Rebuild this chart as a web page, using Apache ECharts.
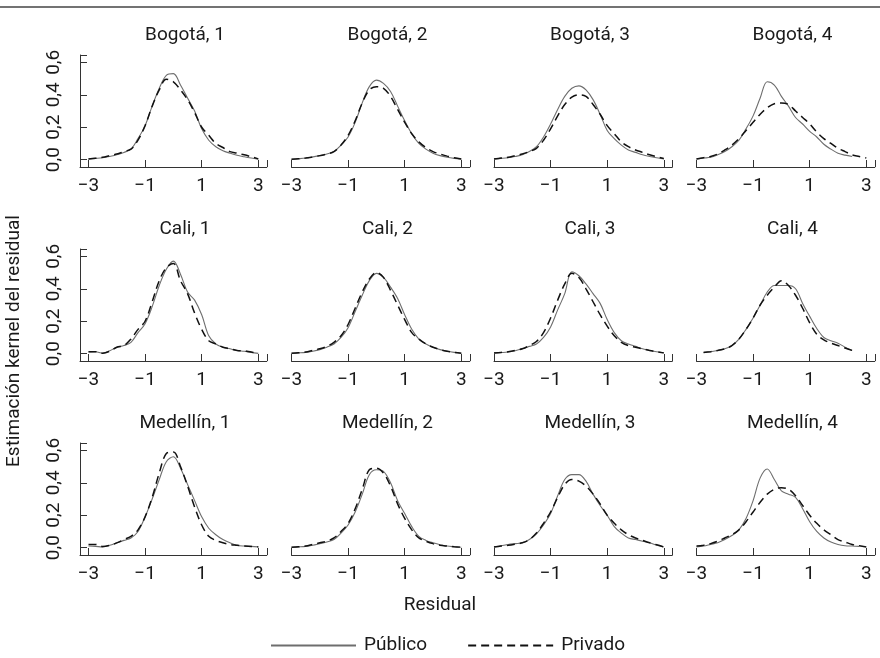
<!DOCTYPE html>
<html>
<head>
<meta charset="utf-8">
<script src="https://cdn.jsdelivr.net/npm/echarts@6/dist/echarts.min.js"></script>
<style>
  html, body { margin: 0; padding: 0; background: #fff; }
  #main { width: 880px; height: 658px; }
</style>
</head>
<body>
<div id="main"></div>
<script>
// residual grid (x), shared by every panel
var residual = [-3, -2.75, -2.5, -2.25, -2, -1.75, -1.5, -1.25, -1, -0.75, -0.5, -0.25, 0,
  0.25, 0.5, 0.75, 1, 1.25, 1.5, 1.75, 2, 2.25, 2.5, 2.75, 3];

var panelTitles = ['Bogotá, 1', 'Bogotá, 2', 'Bogotá, 3', 'Bogotá, 4',
  'Cali, 1', 'Cali, 2', 'Cali, 3', 'Cali, 4',
  'Medellín, 1', 'Medellín, 2', 'Medellín, 3', 'Medellín, 4'];

var xTickLabels = [-3, -1, 1, 3];
var yTickLabels = [0, 0.2, 0.4, 0.6];

// kernel density estimates (Público = solid, Privado = dashed)
var bogota1Publico = [0.005, 0.008, 0.012, 0.02, 0.03, 0.045, 0.065, 0.13, 0.21, 0.33, 0.44, 0.52, 0.53, 0.46, 0.38, 0.30, 0.19, 0.12, 0.08, 0.055, 0.04, 0.027, 0.018, 0.01, 0.003];
var bogota1Privado = [0.005, 0.009, 0.015, 0.025, 0.035, 0.05, 0.065, 0.12, 0.21, 0.33, 0.43, 0.495, 0.48, 0.43, 0.37, 0.29, 0.20, 0.15, 0.10, 0.075, 0.05, 0.04, 0.03, 0.018, 0.005];
var bogota2Publico = [0.003, 0.006, 0.01, 0.017, 0.025, 0.035, 0.05, 0.09, 0.14, 0.23, 0.35, 0.45, 0.49, 0.47, 0.42, 0.33, 0.24, 0.16, 0.10, 0.065, 0.04, 0.025, 0.015, 0.008, 0.003];
var bogota2Privado = [0.003, 0.006, 0.01, 0.017, 0.025, 0.035, 0.05, 0.09, 0.15, 0.24, 0.35, 0.43, 0.45, 0.44, 0.39, 0.31, 0.23, 0.16, 0.11, 0.075, 0.05, 0.035, 0.022, 0.012, 0.005];
var bogota3Publico = [0.005, 0.008, 0.012, 0.02, 0.03, 0.05, 0.08, 0.14, 0.22, 0.31, 0.39, 0.44, 0.455, 0.43, 0.37, 0.28, 0.18, 0.13, 0.09, 0.06, 0.045, 0.03, 0.02, 0.012, 0.005];
var bogota3Privado = [0.005, 0.01, 0.015, 0.025, 0.035, 0.05, 0.07, 0.12, 0.19, 0.27, 0.34, 0.385, 0.40, 0.39, 0.34, 0.28, 0.21, 0.16, 0.11, 0.08, 0.06, 0.045, 0.03, 0.018, 0.008];
var bogota4Publico = [0.005, 0.01, 0.015, 0.03, 0.05, 0.08, 0.12, 0.19, 0.27, 0.38, 0.48, 0.46, 0.39, 0.33, 0.26, 0.22, 0.175, 0.14, 0.095, 0.065, 0.04, 0.028, 0.02, null, null];
var bogota4Privado = [0.005, 0.012, 0.02, 0.035, 0.06, 0.09, 0.13, 0.18, 0.23, 0.28, 0.32, 0.345, 0.35, 0.34, 0.30, 0.26, 0.22, 0.17, 0.13, 0.10, 0.07, 0.05, 0.03, 0.02, 0.01];
var cali1Publico = [0.01, 0.012, 0.003, 0.018, 0.04, 0.05, 0.07, 0.13, 0.185, 0.29, 0.42, 0.52, 0.57, 0.49, 0.38, 0.33, 0.24, 0.11, 0.06, 0.04, 0.03, 0.02, 0.015, 0.008, 0.002];
var cali1Privado = [0.012, 0.012, 0.003, 0.015, 0.04, 0.05, 0.09, 0.15, 0.20, 0.32, 0.45, 0.53, 0.555, 0.45, 0.37, 0.25, 0.15, 0.08, 0.06, 0.04, 0.03, 0.02, 0.018, 0.01, 0.004];
var cali2Publico = [0.003, 0.005, 0.008, 0.015, 0.025, 0.04, 0.06, 0.10, 0.16, 0.26, 0.36, 0.45, 0.495, 0.47, 0.41, 0.34, 0.24, 0.15, 0.09, 0.06, 0.04, 0.025, 0.015, 0.008, 0.003];
var cali2Privado = [0.003, 0.006, 0.01, 0.02, 0.03, 0.045, 0.07, 0.11, 0.18, 0.28, 0.38, 0.46, 0.50, 0.47, 0.39, 0.30, 0.21, 0.13, 0.09, 0.06, 0.04, 0.025, 0.015, 0.008, 0.003];
var cali3Publico = [0.005, 0.007, 0.01, 0.018, 0.03, 0.045, 0.06, 0.10, 0.165, 0.27, 0.37, 0.505, 0.48, 0.43, 0.37, 0.31, 0.21, 0.13, 0.08, 0.06, 0.045, 0.03, 0.02, 0.012, 0.005];
var cali3Privado = [0.005, 0.008, 0.012, 0.02, 0.03, 0.05, 0.075, 0.13, 0.22, 0.33, 0.43, 0.495, 0.47, 0.40, 0.32, 0.24, 0.17, 0.11, 0.07, 0.05, 0.04, 0.03, 0.02, 0.012, 0.005];
var cali4Publico = [null, 0.008, 0.012, 0.02, 0.03, 0.05, 0.09, 0.15, 0.22, 0.30, 0.38, 0.42, 0.42, 0.42, 0.40, 0.31, 0.23, 0.155, 0.10, 0.08, 0.065, 0.04, 0.02, null, null];
var cali4Privado = [null, 0.008, 0.012, 0.02, 0.03, 0.05, 0.09, 0.15, 0.22, 0.30, 0.36, 0.41, 0.45, 0.42, 0.36, 0.28, 0.19, 0.12, 0.085, 0.065, 0.05, 0.035, 0.02, null, null];
var medellin1Publico = [0.01, 0.008, 0.005, 0.015, 0.03, 0.045, 0.06, 0.10, 0.19, 0.30, 0.42, 0.53, 0.56, 0.49, 0.39, 0.29, 0.19, 0.12, 0.08, 0.05, 0.03, 0.015, 0.01, 0.008, 0.005];
var medellin1Privado = [0.02, 0.02, 0.008, 0.015, 0.03, 0.05, 0.07, 0.11, 0.19, 0.31, 0.46, 0.58, 0.59, 0.50, 0.38, 0.25, 0.14, 0.07, 0.045, 0.03, 0.02, 0.015, 0.01, 0.008, 0.005];
var medellin2Publico = [0.003, 0.005, 0.008, 0.015, 0.025, 0.035, 0.05, 0.09, 0.14, 0.22, 0.33, 0.45, 0.48, 0.47, 0.40, 0.29, 0.21, 0.13, 0.07, 0.045, 0.03, 0.018, 0.01, 0.006, 0.003];
var medellin2Privado = [0.003, 0.006, 0.01, 0.02, 0.03, 0.04, 0.06, 0.10, 0.15, 0.24, 0.36, 0.48, 0.49, 0.46, 0.38, 0.27, 0.18, 0.11, 0.06, 0.04, 0.025, 0.015, 0.01, 0.006, 0.003];
var medellin3Publico = [0.005, 0.012, 0.02, 0.025, 0.03, 0.05, 0.085, 0.14, 0.21, 0.32, 0.42, 0.45, 0.45, 0.41, 0.33, 0.26, 0.20, 0.13, 0.09, 0.06, 0.05, 0.04, 0.03, 0.015, 0.005];
var medellin3Privado = [0.005, 0.01, 0.015, 0.022, 0.03, 0.05, 0.09, 0.15, 0.22, 0.31, 0.39, 0.42, 0.41, 0.38, 0.33, 0.27, 0.20, 0.15, 0.11, 0.08, 0.06, 0.045, 0.03, 0.018, 0.005];
var medellin4Publico = [0.005, 0.01, 0.02, 0.03, 0.05, 0.075, 0.11, 0.18, 0.29, 0.43, 0.485, 0.42, 0.35, 0.33, 0.31, 0.24, 0.16, 0.10, 0.06, 0.035, 0.02, 0.012, 0.01, 0.008, null];
var medellin4Privado = [0.01, 0.015, 0.025, 0.04, 0.06, 0.08, 0.11, 0.16, 0.22, 0.28, 0.33, 0.36, 0.37, 0.36, 0.32, 0.26, 0.20, 0.15, 0.11, 0.08, 0.05, 0.035, 0.02, 0.012, 0.005];

var publico = [bogota1Publico, bogota2Publico, bogota3Publico, bogota4Publico,
  cali1Publico, cali2Publico, cali3Publico, cali4Publico,
  medellin1Publico, medellin2Publico, medellin3Publico, medellin4Publico];
var privado = [bogota1Privado, bogota2Privado, bogota3Privado, bogota4Privado,
  cali1Privado, cali2Privado, cali3Privado, cali4Privado,
  medellin1Privado, medellin2Privado, medellin3Privado, medellin4Privado];

var FONT = 'Roboto, "Noto Sans", sans-serif';
var FS = 19;
var TXT = '#1a1a1a';
var AX = '#333';
var UNIT = 28.3;              // px per residual unit
var colX = [88.5, 291.5, 494, 696.5];   // where -3 sits in each column
var rowTop = [55, 249, 443];
var plotH = 112;
var titleX = [185, 387.5, 590, 792.5];

function pairs(vals) {
  var out = [];
  vals.forEach(function (v, k) { if (v != null) out.push([residual[k], v]); });
  return out;
}
function minus(v) { return v < 0 ? '\u2212' + Math.abs(v) : String(v); }

var grids = [], xAxes = [], yAxes = [], titles = [], series = [];
panelTitles.forEach(function (t, i) {
  var r = Math.floor(i / 4), c = i % 4;
  var first = c === 0;
  var xmin = first ? -3.3 : -3;
  grids.push({
    left: first ? colX[0] - 0.3 * UNIT : colX[c],
    top: rowTop[r],
    width: (3.3 - xmin) * UNIT,
    height: plotH,
    outerBoundsMode: 'none'
  });
  xAxes.push({
    type: 'value', gridIndex: i, min: xmin, max: 3.3,
    axisLine: { show: true, onZero: false, lineStyle: { color: AX, width: 1 } },
    axisTick: { show: true, inside: true, length: 7, lineStyle: { color: AX },
      customValues: [-3, -1, 1, 3, 3.3] },
    axisLabel: { customValues: xTickLabels, formatter: minus, margin: 10,
      fontSize: FS, color: TXT, fontFamily: FONT },
    splitLine: { show: false }
  });
  yAxes.push({
    type: 'value', gridIndex: i, min: -0.045, max: 0.645, show: first,
    axisLine: { show: true, onZero: false, lineStyle: { color: AX, width: 1 } },
    axisTick: { show: true, inside: true, length: 7, lineStyle: { color: AX },
      customValues: [0, 0.2, 0.4, 0.6, 0.645] },
    axisLabel: { customValues: yTickLabels, rotate: 90, margin: 16,
      formatter: function (v) { return v.toFixed(1).replace('.', ','); },
      fontSize: FS, color: TXT, fontFamily: FONT },
    splitLine: { show: false }
  });
  titles.push({
    text: t, left: titleX[c], top: rowTop[r] - 29, textAlign: 'center', padding: 0,
    textStyle: { fontSize: FS, fontWeight: 'normal', color: TXT, fontFamily: FONT }
  });
  series.push({
    name: 'Público', type: 'line', xAxisIndex: i, yAxisIndex: i,
    data: pairs(publico[i]), symbol: 'none', smooth: 0.35, silent: true,
    color: '#6e6e6e', lineStyle: { color: '#6e6e6e', width: 1.1 }
  });
  series.push({
    name: 'Privado', type: 'line', xAxisIndex: i, yAxisIndex: i,
    data: pairs(privado[i]), symbol: 'none', smooth: 0.35, silent: true,
    color: '#111', lineStyle: { color: '#111', width: 1.5, type: [8, 5] }
  });
});

titles.push({
  text: 'Residual', left: 440, top: 596, textAlign: 'center', padding: 0,
  textStyle: { fontSize: FS, fontWeight: 'normal', color: TXT, fontFamily: FONT }
});

var chart = echarts.init(document.getElementById('main'), null, { renderer: 'canvas' });
chart.setOption({
  animation: false,
  backgroundColor: '#fff',
  title: titles,
  grid: grids,
  xAxis: xAxes,
  yAxis: yAxes,
  legend: {
    data: ['Público', 'Privado'],
    left: 265, top: 631, itemWidth: 85, itemHeight: 14, itemGap: 40,
    selectedMode: false,
    itemStyle: { opacity: 0 },
    textStyle: { fontSize: FS, color: TXT, fontFamily: FONT, padding: [0, 0, 0, 3] }
  },
  graphic: [
    { type: 'line', shape: { x1: 0, y1: 7, x2: 880, y2: 7 },
      style: { stroke: '#444', lineWidth: 1.5 }, silent: true },
    { type: 'text', x: 14, y: 341, rotation: Math.PI / 2, silent: true,
      style: { text: 'Estimación kernel del residual', fontSize: FS, fill: TXT,
        fontFamily: FONT, align: 'center', verticalAlign: 'middle' } }
  ],
  series: series
});
</script>
</body>
</html>
